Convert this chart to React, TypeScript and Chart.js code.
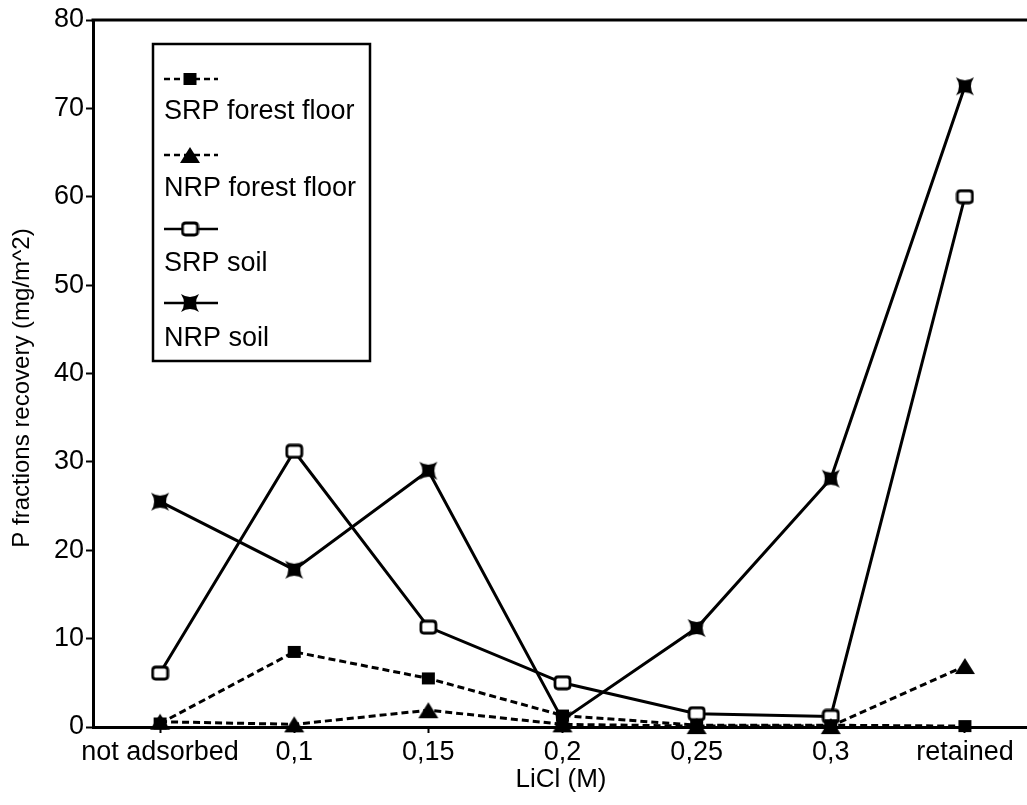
import React, { useEffect, useRef } from 'react';
import { Chart, registerables } from 'chart.js';

Chart.register(...registerables);

const categories = ['not adsorbed', '0,1', '0,15', '0,2', '0,25', '0,3', 'retained'];
const srpForestFloor = [0.4, 8.5, 5.5, 1.3, 0.2, 0.2, 0.1];
const nrpForestFloor = [0.6, 0.3, 1.9, 0.3, 0.1, 0.1, 6.9];
const srpSoil = [6.1, 31.2, 11.3, 5.0, 1.5, 1.2, 60.0];
const nrpSoil = [25.5, 17.8, 29.0, 0.8, 11.2, 28.1, 72.5];
const seriesNames = ['SRP forest floor', 'NRP forest floor', 'SRP soil', 'NRP soil'];
const yTickValues = [0, 10, 20, 30, 40, 50, 60, 70, 80];
const yTitle = 'P fractions recovery (mg/m^2)';
const xTitle = 'LiCl (M)';

const FONT = "'Liberation Sans', Arial, Helvetica, sans-serif";

function makeCanvas(w: number, h: number, draw: (ctx: CanvasRenderingContext2D) => void) {
  const c = document.createElement('canvas');
  c.width = w;
  c.height = h;
  const ctx = c.getContext('2d')!;
  draw(ctx);
  return c;
}

function makeMarkers() {
  const filledSquare = makeCanvas(15, 14, (ctx) => {
    ctx.fillStyle = '#000';
    ctx.fillRect(1, 1, 13, 12);
  });
  const triangle = makeCanvas(22, 18, (ctx) => {
    ctx.fillStyle = '#000';
    ctx.beginPath();
    ctx.moveTo(11, 1);
    ctx.lineTo(21, 17);
    ctx.lineTo(1, 17);
    ctx.closePath();
    ctx.fill();
  });
  const openSquare = makeCanvas(19, 16, (ctx) => {
    ctx.fillStyle = '#fff';
    ctx.strokeStyle = '#000';
    ctx.lineWidth = 2.8;
    const x = 2, y = 2, w = 15, h = 12, r = 3;
    ctx.beginPath();
    ctx.moveTo(x + r, y);
    ctx.lineTo(x + w - r, y);
    ctx.quadraticCurveTo(x + w, y, x + w, y + r);
    ctx.lineTo(x + w, y + h - r);
    ctx.quadraticCurveTo(x + w, y + h, x + w - r, y + h);
    ctx.lineTo(x + r, y + h);
    ctx.quadraticCurveTo(x, y + h, x, y + h - r);
    ctx.lineTo(x, y + r);
    ctx.quadraticCurveTo(x, y, x + r, y);
    ctx.closePath();
    ctx.fill();
    ctx.stroke();
  });
  const bowtie = makeCanvas(22, 22, (ctx) => {
    ctx.fillStyle = '#000';
    ctx.beginPath();
    ctx.moveTo(2, 2);
    ctx.quadraticCurveTo(11, 8, 20, 2);
    ctx.quadraticCurveTo(14, 11, 20, 20);
    ctx.quadraticCurveTo(11, 14, 2, 20);
    ctx.quadraticCurveTo(8, 11, 2, 2);
    ctx.closePath();
    ctx.fill();
  });
  return { filledSquare, triangle, openSquare, bowtie };
}

export default function App() {
  const ref = useRef<HTMLCanvasElement | null>(null);

  useEffect(() => {
    if (!ref.current) return;
    const m = makeMarkers();
    const markers = [m.filledSquare, m.triangle, m.openSquare, m.bowtie];
    const dashed = [true, true, false, false];

    const decorPlugin = {
      id: 'decor',
      afterDraw(chart: any) {
        const ctx = chart.ctx as CanvasRenderingContext2D;
        const a = chart.chartArea;
        ctx.save();
        // top border
        ctx.strokeStyle = '#000';
        ctx.lineWidth = 3;
        ctx.setLineDash([]);
        ctx.beginPath();
        ctx.moveTo(a.left - 1.5, a.top);
        ctx.lineTo(chart.width, a.top);
        ctx.stroke();

        // axis titles
        ctx.fillStyle = '#000';
        ctx.font = `24px ${FONT}`;
        ctx.textAlign = 'center';
        ctx.textBaseline = 'middle';
        ctx.save();
        ctx.translate(22, 388);
        ctx.rotate(-Math.PI / 2);
        ctx.fillText(yTitle, 0, 0);
        ctx.restore();
        ctx.font = `26px ${FONT}`;
        ctx.fillText(xTitle, 561, 780);

        // legend
        ctx.lineWidth = 2.5;
        ctx.fillStyle = '#fff';
        ctx.fillRect(153, 44, 217, 317);
        ctx.strokeRect(153, 44, 217, 317);
        const sampleY = [79, 155, 229, 303];
        const textY = [112, 189, 264, 339];
        ctx.font = `27px ${FONT}`;
        ctx.textAlign = 'left';
        for (let i = 0; i < 4; i++) {
          ctx.strokeStyle = '#000';
          ctx.lineWidth = 2.5;
          ctx.setLineDash(dashed[i] ? [6, 4] : []);
          ctx.beginPath();
          ctx.moveTo(164, sampleY[i]);
          ctx.lineTo(218, sampleY[i]);
          ctx.stroke();
          ctx.setLineDash([]);
          const mk = markers[i];
          ctx.drawImage(mk, 190 - mk.width / 2, sampleY[i] - mk.height / 2);
          ctx.fillStyle = '#000';
          ctx.fillText(seriesNames[i], 164, textY[i]);
        }
        ctx.restore();
      },
    };

    const seriesData = [srpForestFloor, nrpForestFloor, srpSoil, nrpSoil];
    const datasets = seriesData.map((d, i) => ({
      label: seriesNames[i],
      data: d,
      borderColor: '#000',
      backgroundColor: '#000',
      borderWidth: 3,
      borderDash: dashed[i] ? [7, 4] : [],
      pointStyle: markers[i],
      pointRadius: 8,
      pointHoverRadius: 8,
      tension: 0,
      clip: false as any,
      fill: false,
    }));

    const chart = new Chart(ref.current, {
      type: 'line',
      data: { labels: categories, datasets },
      options: {
        animation: false,
        responsive: false,
        devicePixelRatio: 1,
        events: [],
        layout: { padding: { top: 20, left: 0, right: 0, bottom: 0 } },
        plugins: {
          legend: { display: false },
          tooltip: { enabled: false },
          title: { display: false },
        },
        scales: {
          x: {
            type: 'category',
            offset: true,
            grid: {
              display: true,
              drawOnChartArea: false,
              offset: false,
              tickLength: 6,
              tickColor: '#000',
              tickWidth: 2,
            },
            border: { display: true, color: '#000', width: 3 },
            ticks: {
              color: '#000',
              font: { family: FONT, size: 27 },
              padding: 3,
              maxRotation: 0,
              autoSkip: false,
            },
            afterFit(scale: any) {
              scale.height = 78;
            },
          },
          y: {
            type: 'linear',
            min: 0,
            max: 80,
            afterBuildTicks(scale: any) {
              scale.ticks = yTickValues.map((v) => ({ value: v }));
            },
            grid: {
              display: true,
              drawOnChartArea: false,
              tickLength: 7,
              tickColor: '#000',
              tickWidth: 2,
            },
            border: { display: true, color: '#000', width: 3 },
            ticks: {
              color: '#000',
              font: { family: FONT, size: 27 },
              padding: 2,
            },
            afterFit(scale: any) {
              scale.width = 93;
            },
          },
        },
      },
      plugins: [decorPlugin],
    });

    return () => chart.destroy();
  }, []);

  return (
    <div style={{ position: 'absolute', left: 0, top: 0, width: 1027, height: 805, overflow: 'hidden', background: '#fff' }}>
      <canvas ref={ref} width={1043} height={805} style={{ display: 'block', width: 1043, height: 805 }} />
    </div>
  );
}
